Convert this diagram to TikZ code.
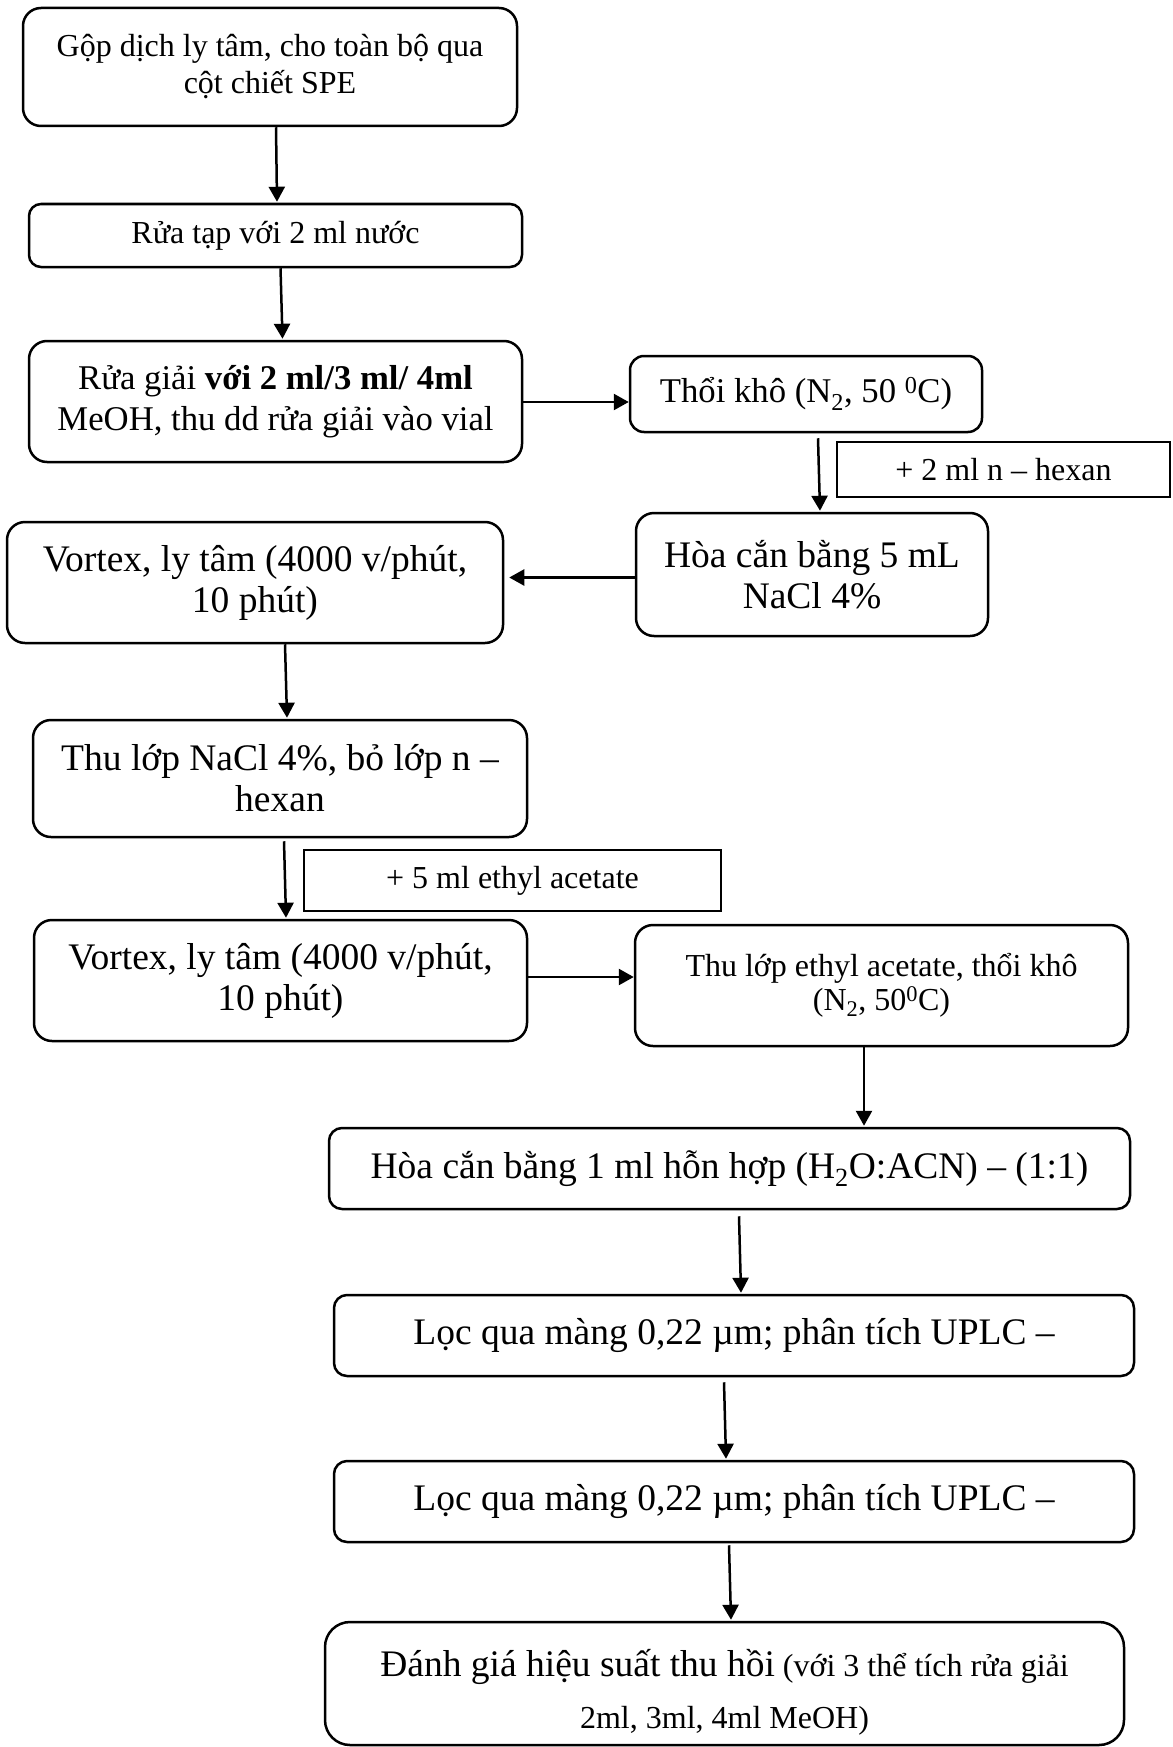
\documentclass[tikz,border=0pt]{standalone}
\usepackage{fontspec}
\setmainfont{Liberation Serif}
\usetikzlibrary{arrows.meta}

\tikzset{
  proc/.style={draw, line width=2.5pt, rounded corners=18pt, align=center,
               inner sep=0pt, anchor=center},
  addbox/.style={draw, line width=2.5pt, align=center, inner sep=0pt, anchor=center},
  arr/.style={line width=2.5pt, -{Triangle[length=15pt,width=16pt]}},
  fsA/.style={font=\fontsize{32}{37}\selectfont},
  fsB/.style={font=\fontsize{34.7}{41}\selectfont},
  fsC/.style={font=\fontsize{37.5}{41}\selectfont},
}

\begin{document}
\begin{tikzpicture}[x=1pt,y=-1pt]
\useasboundingbox (0,0) rectangle (1172,1747);

% left column
\node[proc, fsA, minimum width=494pt, minimum height=118pt] (b1) at (270,67)
  {Gộp dịch ly tâm, cho toàn bộ qua\\cột chiết SPE};
\node[proc, fsA, rounded corners=12pt, minimum width=493pt, minimum height=63pt] (b2) at (275.5,235.5)
  {Rửa tạp với 2 ml nước};
\node[proc, fsB, minimum width=493pt, minimum height=121pt] (b3) at (275.5,401.5)
  {Rửa giải \textbf{với 2 ml/3 ml/ 4ml}\\MeOH, thu dd rửa giải vào vial};

% right branch
\node[proc, fsB, rounded corners=14pt, minimum width=352pt, minimum height=76pt] (b4) at (806,394)
  {Thổi khô (N\textsubscript{2}, 50 \textsuperscript{0}C)};
\node[addbox, fsA, minimum width=333pt, minimum height=55pt] (hex) at (1003.5,469.5)
  {+ 2 ml n – hexan};
\node[proc, fsC, minimum width=352pt, minimum height=123pt] (b5) at (812,574.5)
  {Hòa cắn bằng 5 mL\\NaCl 4\%};

% back to the left column
\node[proc, fsC, minimum width=496pt, minimum height=121pt] (b6) at (255,582.5)
  {Vortex, ly tâm (4000 v/phút,\\10 phút)};
\node[proc, fsC, minimum width=494pt, minimum height=117pt] (b7) at (280,778.5)
  {Thu lớp NaCl 4\%, bỏ lớp n –\\hexan};
\node[addbox, fsA, minimum width=417pt, minimum height=61pt] (eth) at (512.5,880.5)
  {+ 5 ml ethyl acetate};
\node[proc, fsC, minimum width=493pt, minimum height=121pt] (b8) at (280.5,980.5)
  {Vortex, ly tâm (4000 v/phút,\\10 phút)};
\node[proc, font=\fontsize{32}{34}\selectfont, minimum width=493pt, minimum height=121pt] (b9) at (881.5,985.5)
  {Thu lớp ethyl acetate, thổi khô\\(N\textsubscript{2}, 50\textsuperscript{0}C)};

% final steps
\node[proc, fsC, rounded corners=13pt, minimum width=801pt, minimum height=81pt] (b10) at (729.5,1168.5)
  {Hòa cắn bằng 1 ml hỗn hợp (H\textsubscript{2}O:ACN) – (1:1)};
\node[proc, fsC, rounded corners=13pt, minimum width=800pt, minimum height=81pt] (b11) at (734,1335.5)
  {Lọc qua màng 0,22 µm; phân tích UPLC –};
\node[proc, fsC, rounded corners=13pt, minimum width=800pt, minimum height=81pt] (b12) at (734,1501.5)
  {Lọc qua màng 0,22 µm; phân tích UPLC –};
\node[proc, font=\fontsize{32}{49}\selectfont, rounded corners=25pt, minimum width=799pt, minimum height=123pt] (b13) at (724.5,1683.5)
  {\rule{0pt}{44pt}{\fontsize{37.5}{49}\selectfont Đánh giá hiệu suất thu hồi} (với 3 thể tích rửa giải\\[3pt]2ml, 3ml, 4ml MeOH)};

% connectors
\coordinate (h5) at ([yshift=-3pt]b5.west);
\draw[arr] ([xshift=6pt]b1.south) -- ([xshift=1.5pt,yshift=1pt]b2.north);
\draw[arr] ([xshift=5pt]b2.south) -- ([xshift=7pt,yshift=1pt]b3.north);
\draw[arr] ([yshift=-0.5pt]b3.east) -- ([yshift=-0.5pt]b3.east -| b4.west);
\draw[arr] ([xshift=12pt,yshift=-5pt]b4.south) -- ([xshift=8pt,yshift=1pt]b5.north);
\draw[arr] (h5) -- ([xshift=5pt]h5 -| b6.east);
\draw[arr] ([xshift=30pt]b6.south) -- ([xshift=7pt,yshift=1pt]b7.north);
\draw[arr] ([xshift=4pt,yshift=-3pt]b7.south) -- ([xshift=5.5pt,yshift=1pt]b8.north);
\draw[arr] ([yshift=3.5pt]b8.east) -- ([yshift=3.5pt]b8.east -| b9.west);
\draw[arr] ([xshift=-17.5pt]b9.south) -- ([xshift=-17.5pt,yshift=1pt]b9.south |- b10.north);
\draw[arr] ([xshift=9.5pt,yshift=-6pt]b10.south) -- ([xshift=7pt,yshift=1pt]b11.north);
\draw[arr] ([xshift=-10pt,yshift=-5pt]b11.south) -- ([xshift=-8pt,yshift=1pt]b12.north);
\draw[arr] ([xshift=-5pt,yshift=-2pt]b12.south) -- ([xshift=6.5pt,yshift=1pt]b13.north);
\end{tikzpicture}
\end{document}
